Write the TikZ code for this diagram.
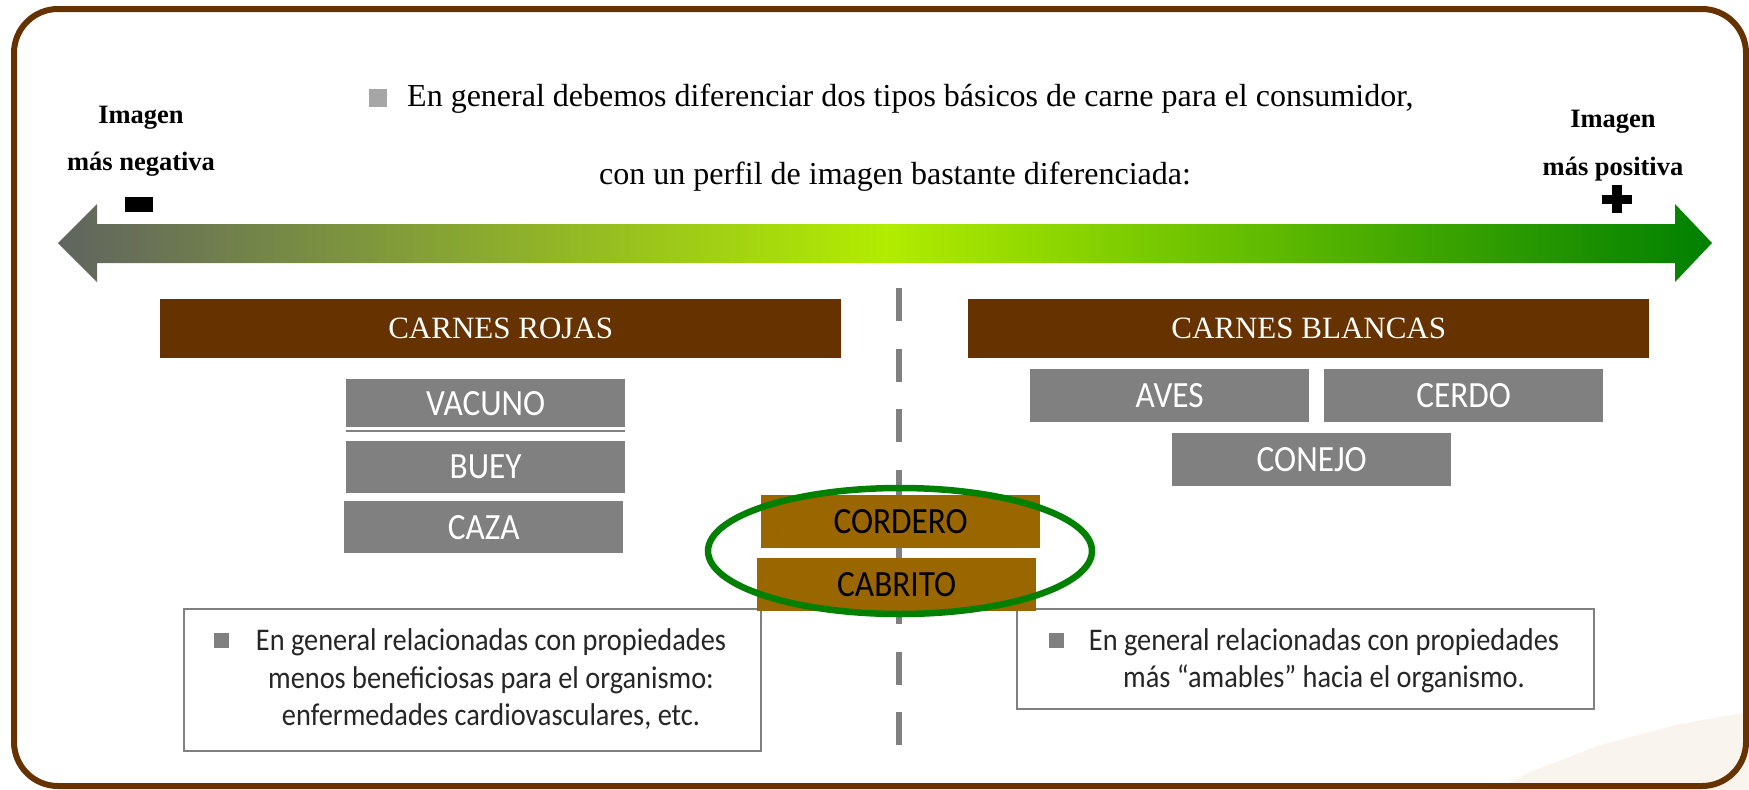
\documentclass[tikz,border=0pt]{standalone}
\usepackage{fontspec}
\setmainfont{Liberation Serif}
\newfontfamily\notefont[FakeStretch=0.9]{Carlito}

\definecolor{brownbar}{RGB}{102,51,0}
\definecolor{ochre}{RGB}{153,102,0}
\definecolor{boxgray}{RGB}{128,128,128}
\definecolor{bulletgray}{RGB}{166,166,166}
\definecolor{leftgray}{RGB}{96,100,96}
\definecolor{midlime}{RGB}{178,236,0}
\definecolor{darkgreen}{RGB}{0,128,0}
\definecolor{paper}{RGB}{249,244,238}

\tikzset{
  meat/.style={fill=boxgray, text=white, font=\notefont\fontsize{37}{37}\selectfont,
    minimum width=279pt, minimum height=53pt, inner sep=0pt, anchor=north west},
  lamb/.style={meat, fill=ochre, text=black},
  header/.style={fill=brownbar, text=white, font=\fontsize{31}{31}\selectfont,
    minimum width=681pt, minimum height=59pt, inner sep=0pt, anchor=north west},
  note/.style={draw=boxgray, line width=2pt, fill=white, inner sep=0pt, anchor=north west},
  notetext/.style={font=\notefont\fontsize{31.5}{31.5}\selectfont, text=black!85, anchor=base, inner sep=0pt},
  sqbullet/.style={inner sep=0pt, minimum size=15pt},
  endlabel/.style={font=\fontsize{26.5}{26.5}\selectfont\bfseries, anchor=base, inner sep=0pt},
  titletext/.style={font=\fontsize{32}{32}\selectfont, inner sep=0pt},
}

\begin{document}
\begin{tikzpicture}[x=1pt,y=-1pt]
  \useasboundingbox (0,0) rectangle (1749,790);

  % paper corner and frame
  \fill[paper] (1495,790) -- (1530,772) -- (1600,745) -- (1680,724) -- (1749,712) -- (1749,790) -- cycle;
  \draw[brownbar, line width=6pt, rounded corners=44pt] (14,9) rectangle (1746,786);

  % heading
  \node[sqbullet, fill=bulletgray, minimum size=18pt] (tbullet) at (378,98) {};
  \node[titletext, anchor=base west] (line1) at (407,106)
    {En general debemos diferenciar dos tipos básicos de carne para el consumidor,};
  \node[titletext, anchor=base] (line2) at (895,184)
    {con un perfil de imagen bastante diferenciada:};

  % ends of the scale
  \node[endlabel] (neg1) at (141,123) {Imagen};
  \node[endlabel] (neg2) at (141,170) {más negativa};
  \node[endlabel] (pos1) at (1613,127) {Imagen};
  \node[endlabel] (pos2) at (1613,175) {más positiva};
  \fill (125,197) rectangle (153,212);  % minus
  \fill (1602,195) rectangle (1632,204);  % plus
  \fill (1612,185) rectangle (1622,213);

  % scale arrow
  \shade[left color=leftgray, right color=darkgreen, middle color=midlime]
    (58,243) -- (97,204) -- (97,224) -- (1675,224) -- (1675,204) -- (1712,243)
    -- (1675,282) -- (1675,263) -- (97,263) -- (97,282) -- cycle;

  % divider
  \coordinate (divtop) at (899,288);
  \coordinate (divbot) at (899,745);
  \draw[boxgray, line width=6pt, dash pattern=on 33pt off 27.6pt] (divtop) -- (divbot);

  % the two groups
  \node[header] (rojas) at (160,299) {CARNES ROJAS};
  \node[header] (blancas) at (968,299) {CARNES BLANCAS};

  \foreach \nm/\x/\y/\h/\txt in {vacuno/346/379/48/VACUNO, buey/346/441/52/BUEY,
      caza/344/501/52/CAZA, aves/1030/369/53/AVES, cerdo/1324/369/53/CERDO,
      conejo/1172/433/53/CONEJO}
    \node[meat, minimum height=\h pt] (\nm) at (\x,\y) {\txt};
  \fill[boxgray] (vacuno.south west) ++(0,3) rectangle ++(279,2);

  \node[note, minimum width=577pt, minimum height=142pt] (negnote) at (183,608) {};
  \node[note, minimum width=577pt, minimum height=100pt] (posnote) at (1016,608) {};

  \node[lamb] (cordero) at (761,495) {CORDERO};
  \node[lamb] (cabrito) at (757,558) {CABRITO};
  \draw[darkgreen, line width=6.5pt] (900,551) ellipse [x radius=192pt, y radius=63pt];

  % notes
  \node[sqbullet, fill=boxgray] (negbullet) at (221,640) {};
  \foreach \i/\y/\txt in {1/650/{En general relacionadas con propiedades},
      2/688/{menos beneficiosas para el organismo:},
      3/725/{enfermedades cardiovasculares, etc.}}
    \node[notetext] (neg\i) at (491,\y) {\txt};

  \node[sqbullet, fill=boxgray] (posbullet) at (1056,640) {};
  \foreach \i/\y/\txt in {1/650/{En general relacionadas con propiedades},
      2/687/{más “amables” hacia el organismo.}}
    \node[notetext] (pos\i) at (1324,\y) {\txt};
\end{tikzpicture}
\end{document}
